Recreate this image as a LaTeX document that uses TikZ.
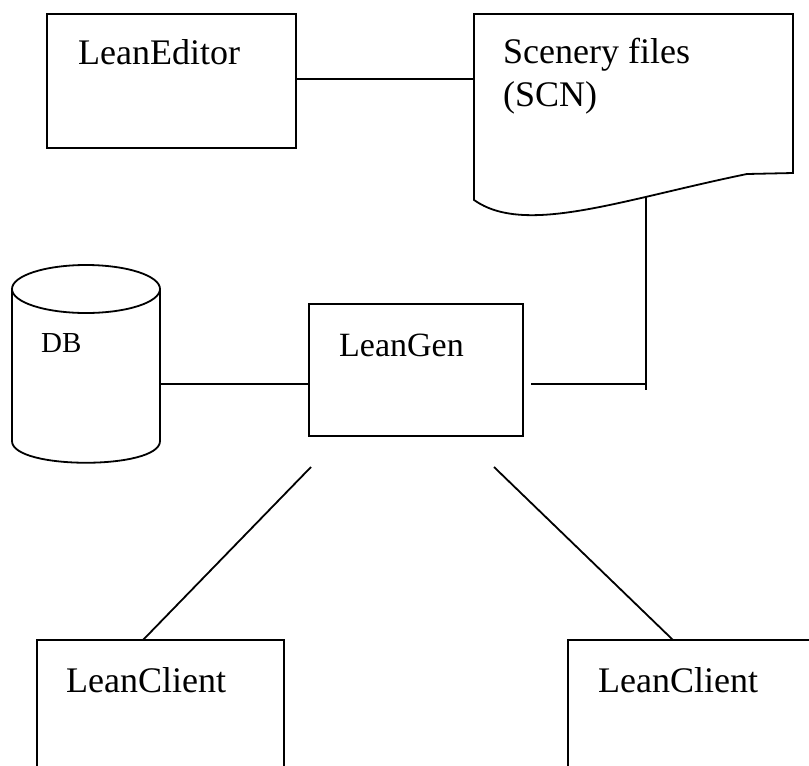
\documentclass[tikz,border=0pt]{standalone}
\usepackage{fontspec}
\setmainfont{Liberation Serif}
\tikzset{
  box/.style = {draw, line width=1.8pt, rectangle, inner sep=0pt},
  lbl/.style = {anchor=base west, inner sep=0pt, font=\fontsize{36}{42}\selectfont},
  link/.style = {line width=1.8pt}
}

\begin{document}
\begin{tikzpicture}[x=1pt,y=-1pt]
  \useasboundingbox (0,0) rectangle (809,766);
  \clip (0,0) rectangle (809,766);
  % editor and scenery files
  \node[box, minimum width=249pt, minimum height=134pt] (editor) at (171.5,81) {};
  \node[lbl] (editortxt) at (78,64) {LeanEditor};
  \draw[link] (474,14) -- (793,14) -- (793,173) -- (747,174)
    .. controls (620,200) and (525,236) .. (474,200) -- cycle;
  \coordinate (scnW) at (474,79);
  \coordinate (scnS) at (646,197);
  \node[lbl] (scntxt) at (503,63) {Scenery files};
  \node[lbl] (scntxt2) at (503,106) {(SCN)};
  \draw[link] ([yshift=2pt]editor.east) -- (scnW);
  % database
  \draw[link] (86,289) ellipse [x radius=74pt, y radius=24pt];
  \draw[link] (12,289) -- (12,441) .. controls (12,470) and (160,470) .. (160,441) -- (160,289);
  \node[lbl, font=\fontsize{29}{34}\selectfont] (dbtxt) at (41,352) {DB};
  \coordinate (dbE) at (160,384);
  % generator
  \node[box, minimum width=214pt, minimum height=132pt] (gen) at (416,370) {};
  \node[lbl, font=\fontsize{34}{40}\selectfont] (gentxt) at (339,356) {LeanGen};
  \coordinate (genE) at (531,384);
  \coordinate (genSW) at (311,467);
  \coordinate (genSE) at (494,467);
  \draw[link] (dbE) -- (dbE -| gen.west);
  \draw[link] (scnS) -- ([yshift=-6pt]scnS |- genE);
  \draw[link] (genE) -- (scnS |- genE);
  % clients
  \node[box, minimum width=247pt, minimum height=160pt] (client1) at (160.5,720) {};
  \node[box, minimum width=247pt, minimum height=160pt] (client2) at (691.5,720) {};
  \node[lbl] (client1txt) at (66,692) {LeanClient};
  \node[lbl] (client2txt) at (598,692) {LeanClient};
  \coordinate (c1top) at (143,640);
  \coordinate (c2top) at (673,640);
  \draw[link] (genSW) -- (c1top);
  \draw[link] (genSE) -- (c2top);
\end{tikzpicture}
\end{document}
